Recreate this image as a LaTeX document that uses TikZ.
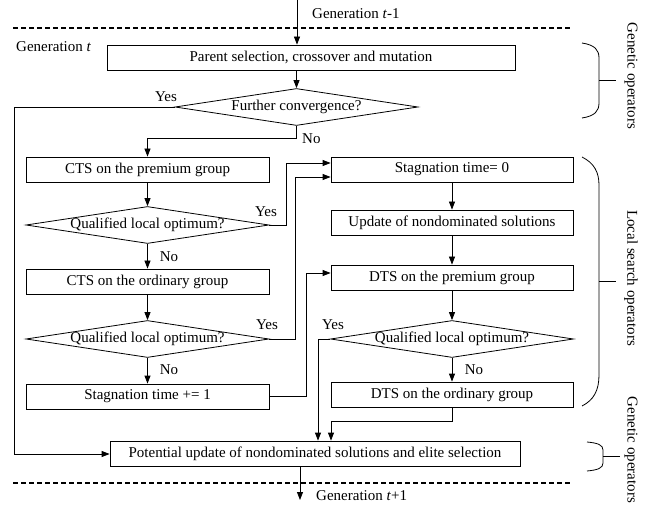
\documentclass[tikz,border=0pt]{standalone}
\usepackage{fontspec}
\setmainfont{Liberation Serif}
\usetikzlibrary{shapes.geometric,arrows.meta}
\begin{document}
\begin{tikzpicture}[x=1pt,y=-1pt,
  every node/.style={font=\fontsize{15pt}{18pt}\selectfont},
  stepbox/.style={draw, line width=0.8pt, minimum height=25pt, inner sep=0pt},
  decision/.style={draw, line width=0.8pt, shape=diamond, aspect=6.568, inner sep=0pt, text height=10.5pt, text depth=3.5pt},
  con/.style={line width=0.8pt},
  arr/.style={con, -{Triangle[length=8pt,width=6pt]}},
  lbl/.style={inner sep=0pt},
  sep/.style={line width=1.2pt, dash pattern=on 5pt off 3pt},
  brace/.style={line width=0.8pt},
  side/.style={rotate=-90, inner sep=0pt}]
\useasboundingbox (0,0) rectangle (665,508);

% separators
\coordinate (sepAL) at (13,28);
\coordinate (sepAR) at (570,28);
\coordinate (sepBL) at (13,483);
\coordinate (sepBR) at (570,483);
\draw[sep] (sepAL) -- (sepAR);
\draw[sep] (sepBL) -- (sepBR);

% nodes
\node[stepbox, minimum width=408pt] (b1) at (311,57.5) {Parent selection, crossover and mutation};
\node[decision] (d1) at (296.5,107) {\makebox[151pt]{Further convergence?}};
\node[stepbox, minimum width=243pt] (c1) at (147.5,169.5) {CTS on the premium group};
\node[decision] (d2) at (147.5,225) {\makebox[151pt]{Qualified local optimum?}};
\node[stepbox, minimum width=243pt] (c2) at (147.5,281.5) {CTS on the ordinary group};
\node[decision] (d3) at (147.5,339) {\makebox[151pt]{Qualified local optimum?}};
\node[stepbox, minimum width=243pt] (c3) at (147.5,396.5) {Stagnation time += 1};
\node[stepbox, minimum width=242pt] (s0) at (452,169.5) {Stagnation time= 0};
\node[stepbox, minimum width=242pt] (u) at (452,222.5) {Update of nondominated solutions};
\node[stepbox, minimum width=242pt] (dp) at (452,277.5) {DTS on the premium group};
\node[decision] (d4) at (452,339) {\makebox[151pt]{Qualified local optimum?}};
\node[stepbox, minimum width=242pt] (do) at (452,394.5) {DTS on the ordinary group};
\node[stepbox, minimum width=410pt] (bot) at (315,453.5) {Potential update of nondominated solutions and elite selection};

% free ends
\coordinate (gtop) at (297,0);
\coordinate (gbot) at (300,500);

% labels
\node[lbl, anchor=west] (lg1) at (312,14) {Generation \textit{t}-1};
\node[lbl, anchor=west] (lg0) at (16,47) {Generation \textit{t}};
\node[lbl, anchor=west] (lg2) at (316,496) {Generation \textit{t}+1};
\node[lbl] (y1) at (166,97) {Yes};
\node[lbl, anchor=west] (n1) at (302,139) {No};
\node[lbl] (y2) at (266,212) {Yes};
\node[lbl] (n2) at (169,257) {No};
\node[lbl] (y3) at (267,325) {Yes};
\node[lbl] (n3) at (169,370) {No};
\node[lbl] (y4) at (333,325) {Yes};
\node[lbl] (n4) at (474,370) {No};

% connectors
\draw[arr] (gtop) -- (gtop |- b1.north);
\draw[arr] (d1.north |- b1.south) -- (d1.north);
\draw[arr] (d1.south) -- (296.5,138) -- (c1.north |- 0,138) -- (c1.north);
\draw[arr] (d1.west) -- (14,107) -- (14,454) -- (bot.west |- 0,454);
\draw[arr] (c1.south) -- (d2.north);
\draw[arr] (d2.east) -- (286,225) -- (286,163) -- (s0.west |- 0,163);
\draw[arr] (d2.south) -- (c2.north);
\draw[arr] (c2.south) -- (d3.north);
\draw[arr] (d3.east) -- (295,339) -- (295,177) -- (s0.west |- 0,177);
\draw[arr] (d3.south) -- (c3.north);
\draw[arr] (c3.east) -- (306,396.5) -- (306,273) -- (dp.west |- 0,273);
\draw[arr] (s0.south) -- (u.north);
\draw[arr] (u.south) -- (dp.north);
\draw[arr] (dp.south) -- (d4.north);
\draw[arr] (d4.south) -- (do.north);
\draw[arr] (d4.west) -- (318,339) -- (318,339 |- bot.north);
\draw[arr] (do.south) -- (452,421) -- (331,421) -- (331,421 |- bot.north);
\draw[arr] (gbot |- bot.south) -- (gbot);

% braces
\draw[brace] (582,43) .. controls (595,45) and (599,50) .. (599,58) -- (599,103) .. controls (599,111) and (595,116) .. (582,118);
\draw[brace] (599,80) -- (616,80);
\draw[brace] (582,157) .. controls (594,163) and (599,172) .. (599,185) -- (599,375) .. controls (599,390) and (594,400) .. (582,406);
\draw[brace] (599,281) -- (616,281);
\draw[brace] (587,442) .. controls (598,443) and (603,445) .. (603,450) -- (603,463) .. controls (603,468) and (598,470) .. (587,471);
\draw[brace] (603,456) -- (620,456);

\node[side] (t1) at (631,76) {Genetic operators};
\node[side] (t2) at (631,278) {Local search operators};
\node[side] (t3) at (631,450) {Genetic operators};
\end{tikzpicture}
\end{document}
